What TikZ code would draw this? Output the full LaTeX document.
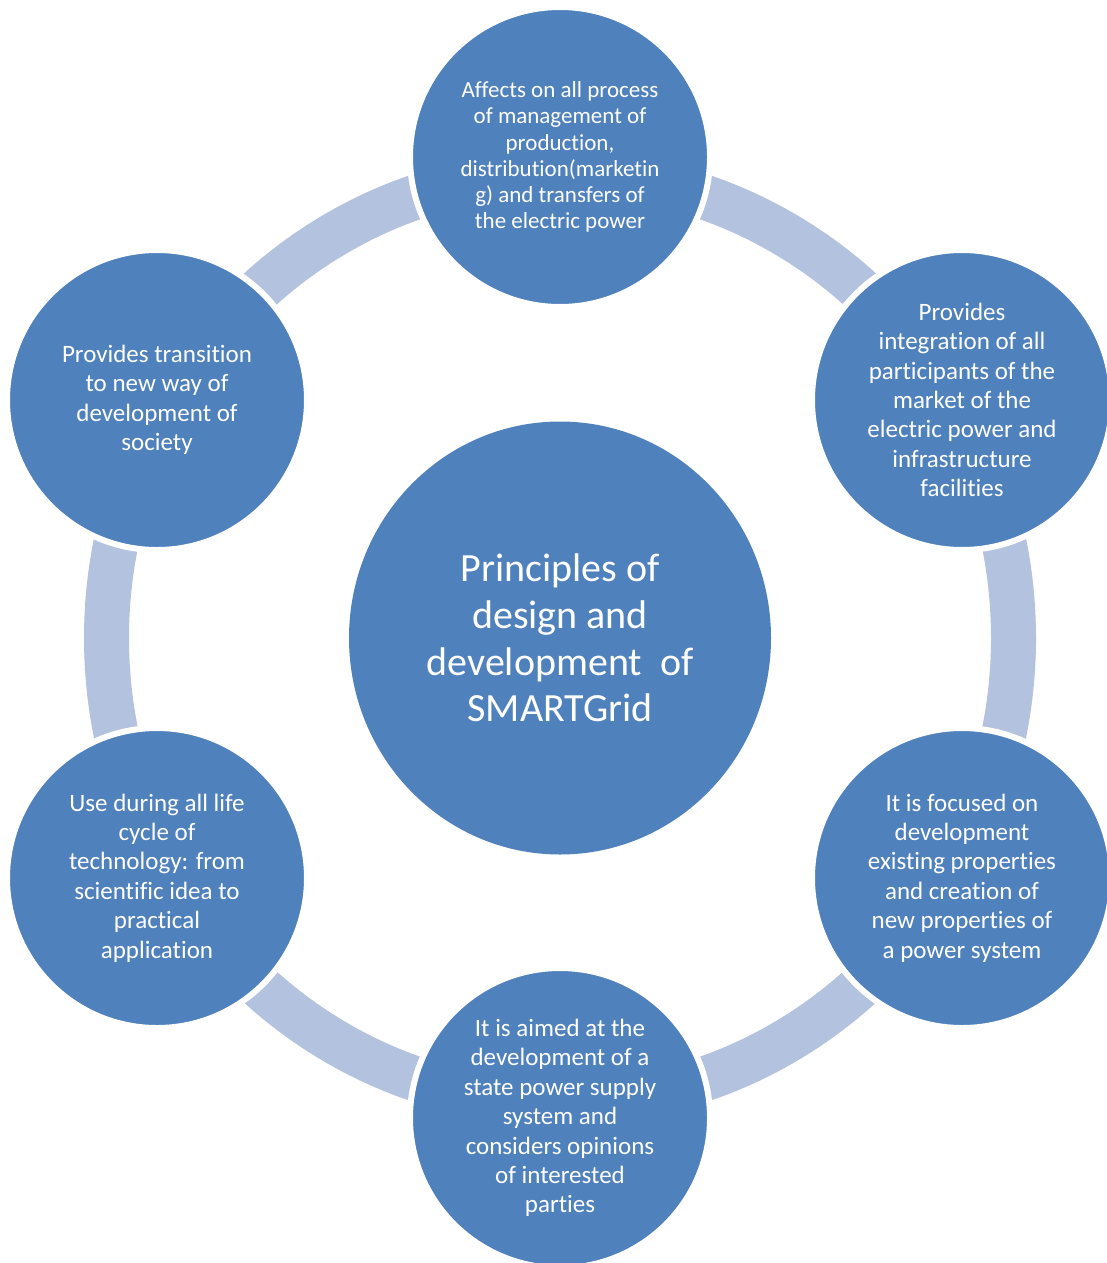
\documentclass[tikz,border=0pt]{standalone}
\usepackage{fontspec}
\setmainfont{Carlito}[Ligatures=NoCommon]
\usetikzlibrary{shapes.geometric}
\definecolor{circleblue}{HTML}{4F81BD}
\definecolor{ringblue}{HTML}{B3C2DE}
\tikzstyle{outer}=[circle, fill=circleblue, draw=white, line width=6pt, minimum size=300pt, inner sep=0pt, align=center, text=white, font=\fontsize{25}{29.4}\selectfont]
\tikzstyle{centre}=[ellipse, fill=circleblue, minimum width=422pt, minimum height=433pt, inner sep=0pt, align=center, text=white, font=\fontsize{40}{46.7}\selectfont]

\begin{document}
\begin{tikzpicture}[x=1pt, y=-1pt]
    \useasboundingbox (0,0) rectangle (1107,1263);
% Ring
    \draw[ringblue, line width=45pt] (560,638) ellipse [x radius=453.5, y radius=465];
% Principles
    \node[centre] (principles) at (560,638) {Principles of\\design and\\development~ of\\SMARTGrid};
% Outer circles
    \node[outer, font=\fontsize{23}{26.2}\selectfont] (process) at (560,157) {Affects on all process\\of management of\\production,\\distribution(marketin\\g) and transfers of\\the electric power};
    \node[outer] (integration) at (962,400) {Provides\\integration of all\\participants of the\\market of the\\electric power and\\infrastructure\\facilities};
    \node[outer] (properties) at (962,878) {It is focused on\\development\\existing properties\\and creation of\\new properties of\\a power system};
    \node[outer] (supply) at (560,1118) {It is aimed at the\\development of a\\state power supply\\system and\\considers opinions\\of interested\\parties};
    \node[outer] (lifecycle) at (157,878) {Use during all life\\cycle of\\technology: from\\scientific idea to\\practical\\application};
    \node[outer] (transition) at (157,400) {Provides transition\\to new way of\\development of\\society};
\end{tikzpicture}
\end{document}
